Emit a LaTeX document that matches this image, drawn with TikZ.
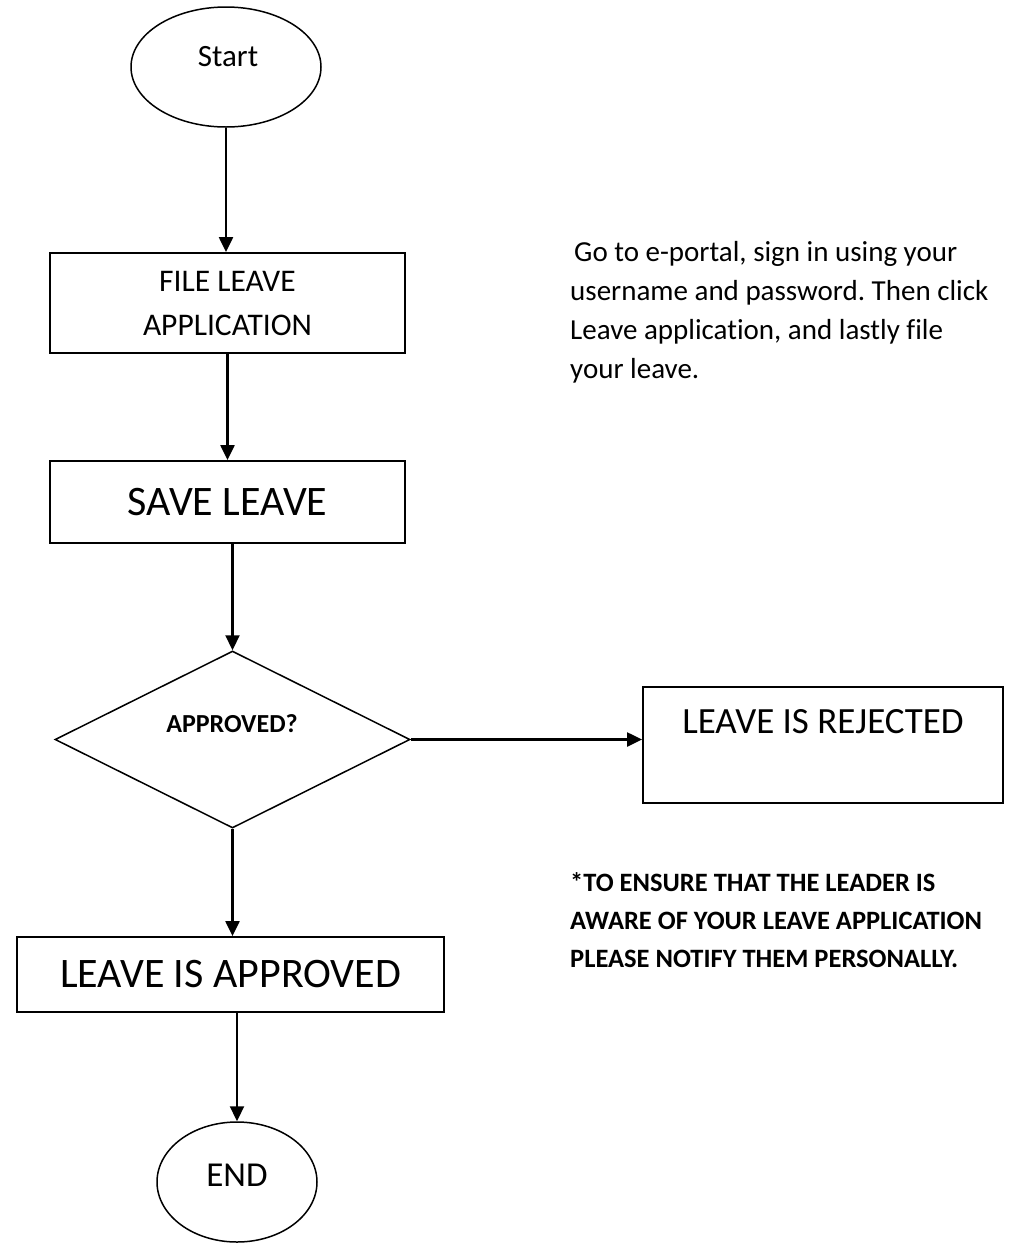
\documentclass[tikz,border=0pt]{standalone}
\usepackage{fontspec}
\setmainfont[Ligatures=NoCommon]{Carlito}
\frenchspacing
\usetikzlibrary{arrows.meta,shapes.geometric}

\tikzset{
  term/.style={ellipse, draw, line width=1.5pt, inner sep=0pt},
  proc/.style={rectangle, draw, line width=1.8pt, inner sep=0pt, align=center},
  decide/.style={diamond, draw, line width=1.5pt, inner sep=0pt},
  arr/.style={line width=2.2pt, -{Triangle[length=15pt,width=14pt]}},
  note/.style={align=left, anchor=north west, inner sep=0pt},
}

\begin{document}
\begin{tikzpicture}[x=1pt,y=-1pt]
\useasboundingbox (0,0) rectangle (1010,1243);

% shapes
\node[term, minimum width=190pt, minimum height=120pt] (start) at (226,67) {};
\node[font=\fontsize{31}{37}\selectfont] (starttxt) at (228,57) {Start};

\node[proc, minimum width=355pt, minimum height=100pt, font=\fontsize{31.5}{44}\selectfont] (file) at (227.5,303) {FILE LEAVE\\APPLICATION};

\node[proc, minimum width=355pt, minimum height=82pt, font=\fontsize{42}{50}\selectfont] (save) at (227.5,502) {SAVE LEAVE};

\node[decide, minimum width=355pt, minimum height=177pt] (check) at (232.5,739.5) {};
\node[font=\bfseries\fontsize{26}{31}\selectfont] (checktxt) at (232,724) {APPROVED?};

\node[proc, minimum width=360pt, minimum height=116pt] (reject) at (823,745) {};
\node[font=\fontsize{37}{44}\selectfont] (rejecttxt) at (823,722) {LEAVE IS REJECTED};

\node[proc, minimum width=427pt, minimum height=75pt, font=\fontsize{42}{50}\selectfont] (approve) at (230.5,974.5) {LEAVE IS APPROVED};

\node[term, minimum width=160pt, minimum height=120pt] (stop) at (237,1182) {};
\node[font=\fontsize{35}{42}\selectfont] (stoptxt) at (237,1175) {END};

% notes
\node[note, font=\fontsize{29}{39}\selectfont] (howto) at (570,241)
  {\hspace{4pt}Go to e-portal, sign in using your\\username and password. Then click\\Leave application, and lastly file\\your leave.};
\node[note, font=\bfseries\fontsize{26.5}{38}\selectfont] (remind) at (570,872)
  {*TO ENSURE THAT THE LEADER IS\\AWARE OF YOUR LEAVE APPLICATION\\PLEASE NOTIFY THEM PERSONALLY.};

% arrows
\draw[arr] (start.south) -- (start.south |- file.north);
\draw[arr] (file.south) -- (file.south |- save.north);
\draw[arr] (check.north |- save.south) -- (check.north);
\draw[arr] (check.east) -- (check.east -| reject.west);
\draw[arr] (check.south) -- (check.south |- approve.north);
\draw[arr] (stop.north |- approve.south) -- (stop.north);
\end{tikzpicture}
\end{document}
